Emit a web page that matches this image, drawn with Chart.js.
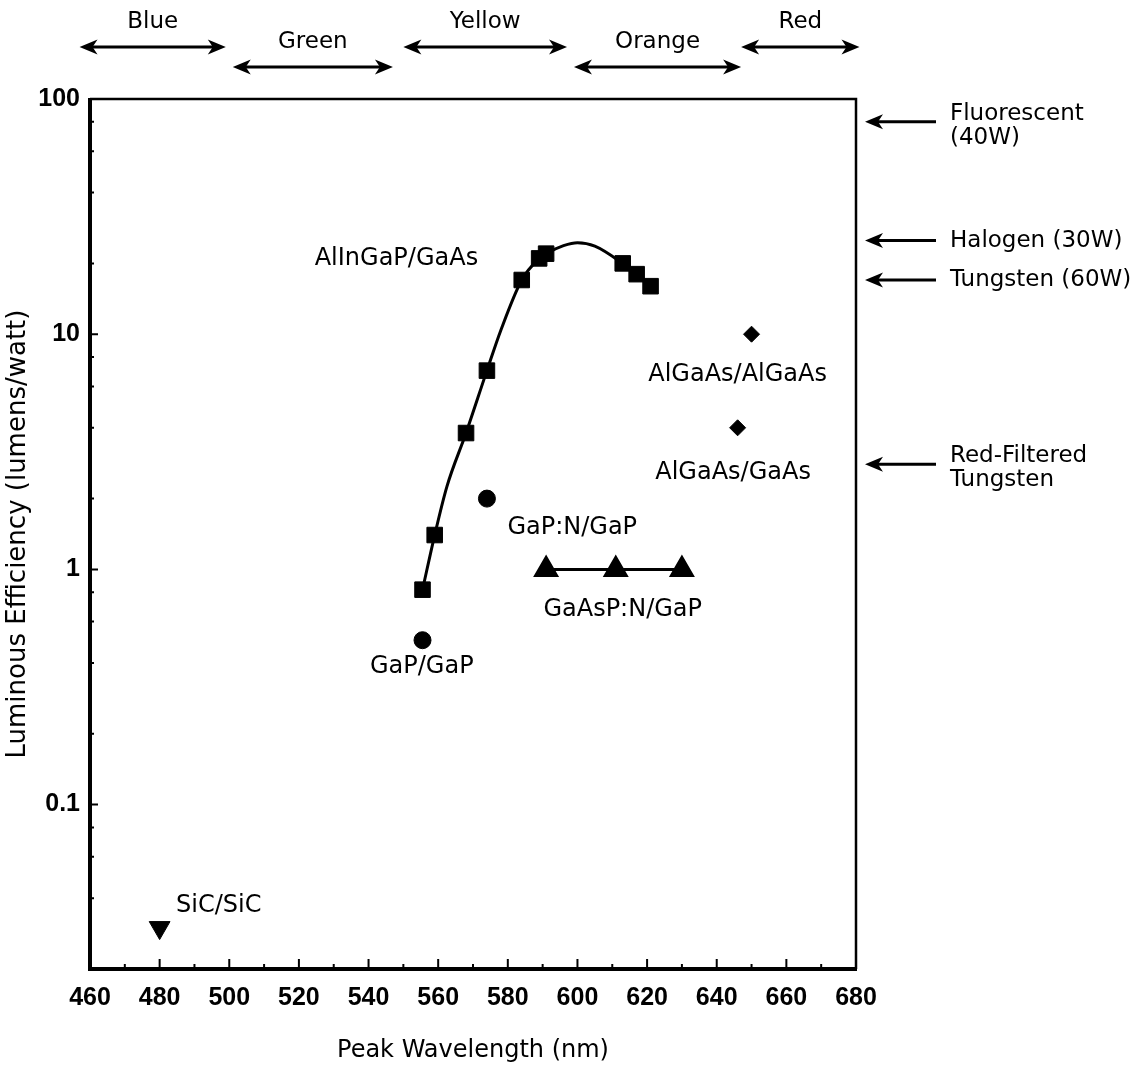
<!DOCTYPE html>
<html>
<head>
<meta charset="utf-8">
<script src="https://cdn.jsdelivr.net/npm/chart.js@4/dist/chart.umd.min.js"></script>
<style>
  html, body { margin: 0; padding: 0; background: #fff; }
  #wrap { width: 1139px; height: 1087px; }
</style>
</head>
<body>
<div id="wrap"><canvas id="chart"></canvas></div>
<script>
const TEXT_FONT = "'DejaVu Sans', 'Liberation Sans', sans-serif";
const TICK_FONT = "'Liberation Sans', Arial, sans-serif";

// tick labels
const xTicks = [460, 480, 500, 520, 540, 560, 580, 600, 620, 640, 660, 680];
const xMinor = [470, 490, 510, 530, 550, 570, 590, 610, 630, 650, 670];
const yMajor = [0.1, 1, 10, 100];
const yMinor = [0.02, 0.04, 0.06, 0.08, 0.2, 0.4, 0.6, 0.8, 2, 4, 6, 8, 20, 40, 60, 80];

// AlInGaP/GaAs measured points
const alingapX = [555.5, 559, 568, 574, 584, 589, 591, 613, 617, 621];
const alingapY = [0.82, 1.4, 3.8, 7, 17, 21, 22, 20, 18, 16];
// AlInGaP/GaAs fitted curve
const fitX = [555.5, 559, 562.5, 568, 574, 578, 584, 589, 591, 596, 600, 605, 613, 617, 621];
const fitY = [0.82, 1.4, 2.25, 3.8, 7, 10.4, 17, 21, 22, 23.8, 24.5, 23.7, 20, 18, 16];

const gapX = [555.5, 574];
const gapY = [0.5, 2];
const gaaspX = [591, 611, 630];
const gaaspY = [1, 1, 1];
const algaasX = [650, 646];
const algaasY = [10, 4];
const sicX = [480];
const sicY = [0.03];

// colour bands on top (nm)
const bandNames = ['Blue', 'Green', 'Yellow', 'Orange', 'Red'];
const bandStart = [457, 501, 550, 599, 647];
const bandEnd = [499, 547, 597, 647, 681];
const bandRow = [0, 1, 0, 1, 0];

// reference lamps (lumens/watt)
const lampNames = [['Fluorescent', '(40W)'], ['Halogen (30W)'], ['Tungsten (60W)'], ['Red-Filtered', 'Tungsten']];
const lampValues = [80, 25, 17, 2.8];

// series labels
const labelText = ['AlInGaP/GaAs', 'GaP:N/GaP', 'GaAsP:N/GaP', 'GaP/GaP', 'AlGaAs/AlGaAs', 'AlGaAs/GaAs', 'SiC/SiC'];
const labelX = [548, 598.5, 613, 555.3, 646, 644.7, 497];
const labelY = [21, 1.51, 0.676, 0.384, 6.7, 2.58, 0.037];

const pts = (xs, ys) => xs.map((v, i) => ({ x: v, y: ys[i] }));

function arrowHead(ctx, x, y, dir) {
  ctx.beginPath();
  ctx.moveTo(x, y);
  ctx.lineTo(x - dir * 18, y - 7.5);
  ctx.lineTo(x - dir * 13, y);
  ctx.lineTo(x - dir * 18, y + 7.5);
  ctx.closePath();
  ctx.fill();
}

const decorations = {
  id: 'decorations',
  afterDraw(chart) {
    const { ctx, chartArea: a, scales: { x, y } } = chart;
    ctx.save();
    ctx.strokeStyle = '#000';
    ctx.fillStyle = '#000';

    // frame: heavier on the left and bottom
    ctx.lineWidth = 2.5;
    ctx.beginPath();
    ctx.moveTo(a.left, a.top);
    ctx.lineTo(a.right, a.top);
    ctx.lineTo(a.right, a.bottom);
    ctx.stroke();
    ctx.lineWidth = 4;
    ctx.beginPath();
    ctx.moveTo(a.left, a.top - 1);
    ctx.lineTo(a.left, a.bottom);
    ctx.lineTo(a.right + 1, a.bottom);
    ctx.stroke();

    // inward ticks
    ctx.lineWidth = 2;
    ctx.beginPath();
    xTicks.forEach(v => { const p = x.getPixelForValue(v); ctx.moveTo(p, a.bottom); ctx.lineTo(p, a.bottom - 10); });
    xMinor.forEach(v => { const p = x.getPixelForValue(v); ctx.moveTo(p, a.bottom); ctx.lineTo(p, a.bottom - 5); });
    yMajor.forEach(v => { const p = y.getPixelForValue(v); ctx.moveTo(a.left, p); ctx.lineTo(a.left + 8, p); });
    yMinor.forEach(v => { const p = y.getPixelForValue(v); ctx.moveTo(a.left, p); ctx.lineTo(a.left + 4, p); });
    ctx.stroke();

    // colour bands
    ctx.font = '23px ' + TEXT_FONT;
    ctx.textAlign = 'center';
    ctx.textBaseline = 'middle';
    bandNames.forEach((name, i) => {
      const x0 = x.getPixelForValue(bandStart[i]);
      const x1 = x.getPixelForValue(bandEnd[i]);
      const ay = bandRow[i] ? 67 : 47;
      ctx.lineWidth = 3;
      ctx.beginPath();
      ctx.moveTo(x0 + 8, ay);
      ctx.lineTo(x1 - 8, ay);
      ctx.stroke();
      arrowHead(ctx, x0, ay, -1);
      arrowHead(ctx, x1, ay, 1);
      ctx.fillText(name, (x0 + x1) / 2, ay - 25);
    });

    // reference lamps
    ctx.textAlign = 'left';
    lampNames.forEach((lines, i) => {
      const ay = y.getPixelForValue(lampValues[i]);
      ctx.lineWidth = 3;
      ctx.beginPath();
      ctx.moveTo(873, ay);
      ctx.lineTo(936, ay);
      ctx.stroke();
      arrowHead(ctx, 865, ay, -1);
      if (lines.length === 1) {
        ctx.fillText(lines[0], 950, ay);
      } else {
        ctx.fillText(lines[0], 950, ay - 8);
        ctx.fillText(lines[1], 950, ay + 16);
      }
    });

    // series labels
    ctx.font = '24px ' + TEXT_FONT;
    ctx.textAlign = 'center';
    labelText.forEach((t, i) => {
      ctx.fillText(t, x.getPixelForValue(labelX[i]), y.getPixelForValue(labelY[i]));
    });
    ctx.restore();
  }
};

new Chart(document.getElementById('chart'), {
  type: 'scatter',
  data: {
    datasets: [
      {
        label: 'AlInGaP/GaAs fit',
        data: pts(fitX, fitY),
        showLine: true,
        borderColor: '#000',
        borderWidth: 3,
        pointRadius: 0,
        tension: 0.4,
        cubicInterpolationMode: 'monotone',
      },
      {
        label: 'AlInGaP/GaAs',
        data: pts(alingapX, alingapY),
        pointStyle: 'rect',
        pointRadius: 11,
        backgroundColor: '#000',
        borderColor: '#000',
      },
      {
        label: 'GaP',
        data: pts(gapX, gapY),
        pointStyle: 'circle',
        pointRadius: 8.5,
        backgroundColor: '#000',
        borderColor: '#000',
      },
      {
        label: 'GaAsP:N/GaP',
        data: pts(gaaspX, gaaspY),
        showLine: true,
        borderColor: '#000',
        borderWidth: 3,
        pointStyle: 'triangle',
        pointRadius: 12,
        backgroundColor: '#000',
      },
      {
        label: 'AlGaAs',
        data: pts(algaasX, algaasY),
        pointStyle: 'rectRot',
        pointRadius: 8,
        backgroundColor: '#000',
        borderColor: '#000',
      },
      {
        label: 'SiC/SiC',
        data: pts(sicX, sicY),
        pointStyle: 'triangle',
        rotation: 180,
        pointRadius: 12,
        backgroundColor: '#000',
        borderColor: '#000',
      },
    ],
  },
  options: {
    responsive: true,
    maintainAspectRatio: false,
    animation: false,
    layout: { padding: { top: 99, right: 283, left: 0, bottom: 0 } },
    plugins: {
      legend: { display: false },
      tooltip: { enabled: false },
    },
    scales: {
      x: {
        type: 'linear',
        min: 460,
        max: 680,
        afterBuildTicks: scale => { scale.ticks = xTicks.map(v => ({ value: v })); },
        afterFit: scale => { scale.height = 118; },
        grid: { display: false, drawTicks: false },
        border: { display: false },
        ticks: {
          color: '#000',
          padding: 14,
          maxRotation: 0,
          font: { family: TICK_FONT, size: 25, weight: 'bold' },
        },
        title: {
          display: true,
          text: 'Peak Wavelength (nm)',
          color: '#000',
          font: { family: TEXT_FONT, size: 24 },
          padding: { top: 0, bottom: 22 },
        },
      },
      y: {
        type: 'logarithmic',
        min: 0.02,
        max: 100,
        afterBuildTicks: scale => { scale.ticks = yMajor.map(v => ({ value: v })); },
        afterFit: scale => { scale.width = 90; },
        grid: { display: false, drawTicks: false },
        border: { display: false },
        ticks: {
          color: '#000',
          padding: 10,
          font: { family: TICK_FONT, size: 25, weight: 'bold' },
          callback: v => String(v),
        },
        title: {
          display: true,
          text: 'Luminous Efficiency (lumens/watt)',
          color: '#000',
          font: { family: TEXT_FONT, size: 26 },
          padding: { top: 3, bottom: 0 },
        },
      },
    },
  },
  plugins: [decorations],
});
</script>
</body>
</html>
